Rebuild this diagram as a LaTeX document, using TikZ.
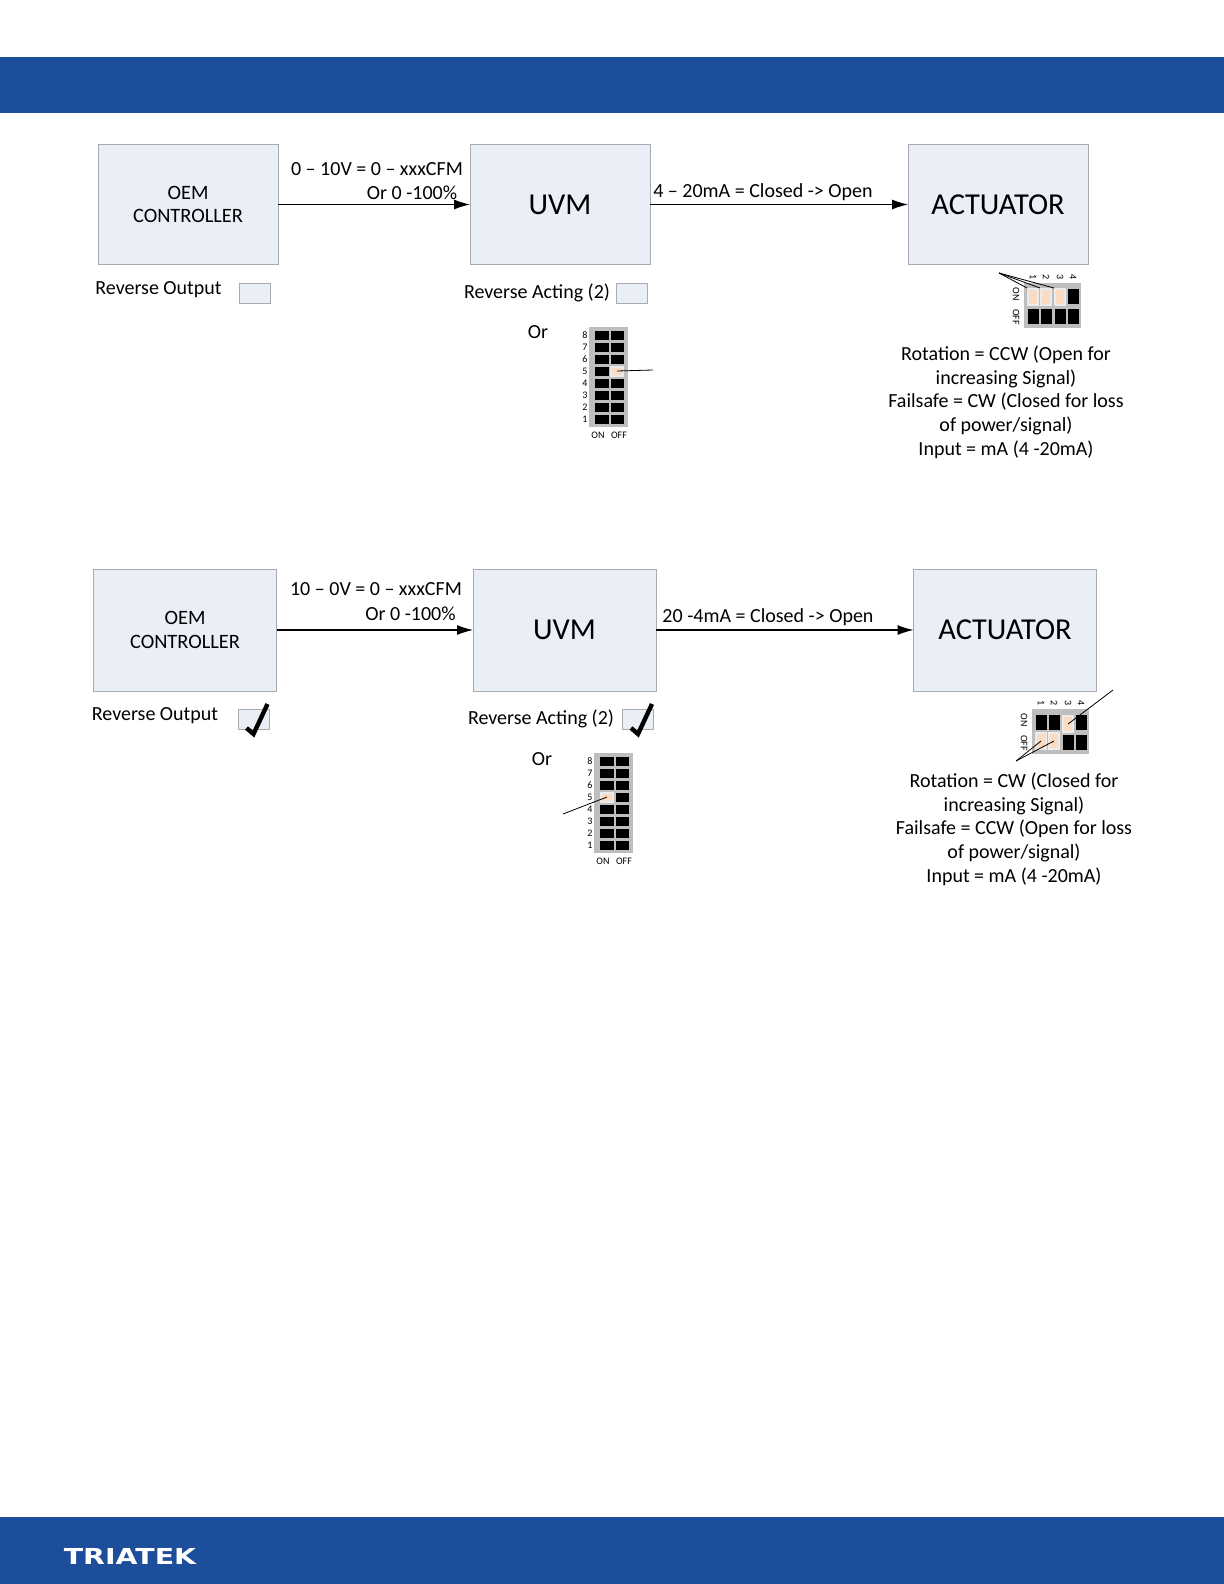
\documentclass[tikz,border=0pt]{standalone}
\usepackage{fontspec}
\setmainfont{Carlito}
\newfontfamily\logofont{DejaVu Sans}
\usetikzlibrary{arrows.meta}

\definecolor{bandblue}{HTML}{1C4E9C}
\definecolor{boxfill}{HTML}{E9EEF7}
\definecolor{boxline}{HTML}{A8ACB2}
\definecolor{dipgray}{HTML}{BEBEBE}
\definecolor{slidepeach}{HTML}{FBDCC3}

\tikzset{
  band/.style={fill=bandblue, draw=none},
  unitbox/.style={draw=boxline, fill=boxfill, line width=0.4pt, minimum width=90pt, minimum height=60pt, align=center, inner sep=0pt, outer sep=0pt},
  smallunit/.style={unitbox, font=\fontsize{10.2}{11.8}\selectfont},
  bigunit/.style={unitbox, font=\fontsize{15.2}{17}\selectfont},
  tickbox/.style={draw=boxline, fill=boxfill, line width=0.4pt, minimum width=15.5pt, minimum height=10pt, inner sep=0pt},
  signal/.style={black, line width=0.55pt, -{Latex[length=8pt,width=5pt]}},
  caption/.style={font=\fontsize{10}{11.85}\selectfont, align=center, inner sep=0pt},
  tiny/.style={font=\fontsize{5}{5.5}\selectfont, inner sep=0pt},
  slider/.style={fill=slidepeach, draw=white!92!black, line width=1pt, inner sep=0pt},
  sliderwide/.style={slider, minimum width=6pt, minimum height=4.5pt},
  slidertall/.style={slider, minimum width=5pt, minimum height=8pt},
  tagline/.style={black, line width=0.4pt},
  tickmark/.style={black, line width=2.2pt, line join=miter},
}

% DIP block with 8 rows
\newcommand{\dipeight}[3]{
  \begin{scope}[shift={(#2,#3)}]
    \fill[dipgray] (0,0) rectangle (39,100);
    \foreach \row in {1,...,8} {
      \fill[black] (6,{3.5+(8-\row)*12}) rectangle (20,{13+(8-\row)*12});
      \fill[black] (22,{3.5+(8-\row)*12}) rectangle (35,{13+(8-\row)*12});
      \node[tiny] (#1num\row) at (-4,{8+(8-\row)*12}) {\row};
    }
    \node[tiny] (#1on) at (9,108.5) {ON};
    \node[tiny] (#1off) at (30,108.5) {OFF};
  \end{scope}
}

% DIP block with 4 columns
\newcommand{\dipfour}[3]{
  \begin{scope}[shift={(#2,#3)}]
    \fill[dipgray] (0,0) rectangle (57,45);
    \foreach \col/\xpos in {1/9,2/22,3/36,4/49} {
      \fill[black] ({\xpos-5.5},6) rectangle ({\xpos+5.5},21);
      \fill[black] ({\xpos-5.5},26) rectangle ({\xpos+5.5},41);
      \node[tiny, rotate=-90] (#1num\col) at (\xpos,-6) {\col};
    }
    \node[tiny, rotate=-90] (#1on) at (-8,11) {ON};
    \node[tiny, rotate=-90] (#1off) at (-8,34) {OFF};
  \end{scope}
}

\begin{document}
\begin{tikzpicture}[x=0.5pt, y=-0.5pt]
    \useasboundingbox (0,0) rectangle (1224,1584);

    % Bands
    \fill[band] (0,57) rectangle (1224,113);
    \fill[band] (0,1517) rectangle (1224,1584);
    \node[white, inner sep=0pt, xscale=1.29] (logo) at (130,1556) {\logofont\bfseries\fontsize{11}{12}\selectfont TRIATEK};

    % Upper row
    \node[smallunit] (oemA) at (188,204.5) {OEM\\CONTROLLER};
    \node[bigunit] (uvmA) at (560,204.5) {UVM};
    \node[bigunit] (actA) at (998,204.5) {ACTUATOR};
    \draw[signal] (oemA) -- (uvmA);
    \draw[signal] (uvmA) -- (actA);

    \node[caption] (rangeA) at (377,169) {0 – 10V = 0 – xxxCFM};
    \node[caption, anchor=east] (pctA) at (457.5,193) {Or 0 -100\%};
    \node[caption] (travelA) at (763,192) {4 – 20mA = Closed -> Open};

    \node[caption] (revoutA) at (158.5,290) {Reverse Output};
    \node[tickbox] (boxoutA) at (254.5,293) {};
    \node[caption] (revactA) at (537,293) {Reverse Acting (2)};
    \node[tickbox] (boxactA) at (632,293) {};
    \node[caption] (orA) at (538,332) {Or};

    \dipeight{dipA}{589}{327}
    \node[sliderwide] (slideA) at (617,371) {};
    \coordinate (tagA) at (653,370);
    \draw[tagline] (slideA.center) -- (tagA);

    \dipfour{quadA}{1024}{283}
    \node[slidertall] (sA1) at (1033,297) {};
    \node[slidertall] (sA2) at (1046,297) {};
    \node[slidertall] (sA3) at (1060,297) {};
    \coordinate (tagB) at (999,273);
    \draw[tagline] (tagB) -- (sA1.north west);
    \draw[tagline] (tagB) -- (sA2.north west);
    \draw[tagline] (tagB) -- (sA3.north west);

    \node[caption] (notesA) at (1006,402) {Rotation = CCW (Open for\\increasing Signal)\\Failsafe = CW (Closed for loss\\of power/signal)\\Input = mA (4 -20mA)};

    % Lower row
    \node[smallunit, minimum width=91.5pt, minimum height=61pt] (oemB) at (185,630) {OEM\\CONTROLLER};
    \node[bigunit, minimum width=91.5pt, minimum height=61pt] (uvmB) at (564.5,630) {UVM};
    \node[bigunit, minimum width=91.5pt, minimum height=61pt] (actB) at (1005,630) {ACTUATOR};
    \draw[signal] (oemB) -- (uvmB);
    \draw[signal] (uvmB) -- (actB);

    \node[caption] (rangeB) at (376,589) {10 – 0V = 0 – xxxCFM};
    \node[caption, anchor=east] (pctB) at (456,614) {Or 0 -100\%};
    \node[caption] (travelB) at (768,617) {20 -4mA = Closed -> Open};

    \node[caption] (revoutB) at (155,716) {Reverse Output};
    \node[tickbox] (boxoutB) at (253.5,719) {};
    \node[caption] (revactB) at (541,719) {Reverse Acting (2)};
    \node[tickbox] (boxactB) at (638,719) {};
    \node[caption] (orB) at (542,759) {Or};

    % Tick marks
    \draw[tickmark] (boxoutB.center) ++(-7,9) -- ++(7,6) -- ++(14,-30);
    \draw[tickmark] (boxactB.center) ++(-7,9) -- ++(7,6) -- ++(14,-30);

    \dipeight{dipB}{594}{753}
    \node[sliderwide] (slideB) at (607,797) {};
    \coordinate (tagC) at (563,814);
    \draw[tagline] (slideB.center) -- (tagC);

    \dipfour{quadB}{1032}{709}
    \node[slidertall] (sB1) at (1041,741) {};
    \node[slidertall] (sB2) at (1054,741) {};
    \node[slidertall] (sB3) at (1068,724) {};
    \coordinate (tagD) at (1016,761);
    \coordinate (tagE) at (1113,690);
    \draw[tagline] (tagD) -- (sB1.center);
    \draw[tagline] (tagD) -- (sB2.center);
    \draw[tagline] (tagE) -- (sB3.center);

    \node[caption] (notesB) at (1014,829) {Rotation = CW (Closed for\\increasing Signal)\\Failsafe = CCW (Open for loss\\of power/signal)\\Input = mA (4 -20mA)};
\end{tikzpicture}
\end{document}
